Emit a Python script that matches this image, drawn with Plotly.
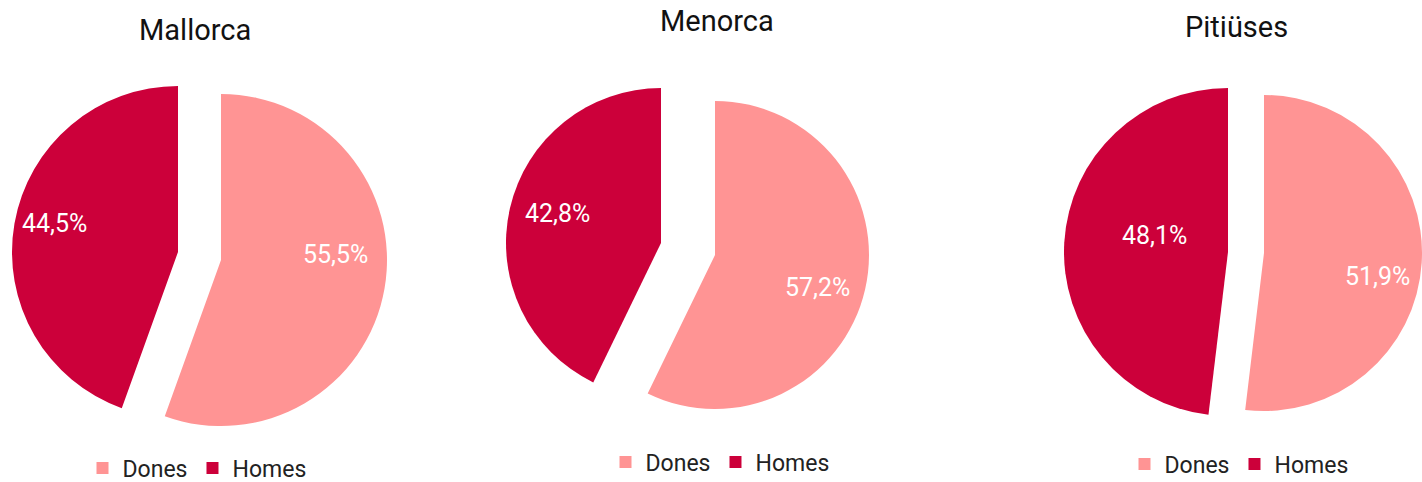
import math
import plotly.graph_objects as go

W, H = 1422, 482

islands = ["Mallorca", "Menorca", "Pitiüses"]
labels = ["Dones", "Homes"]
dones = [55.5, 57.2, 51.9]
homes = [44.5, 42.8, 48.1]

C_DONES = "#FF9494"
C_HOMES = "#CC003A"
CLEAR = "rgba(0,0,0,0)"
FONT = "Roboto"

# layout geometry in window pixels: homes-slice centre, dones-slice centre (exploded), radius,
# title / legend centres, and percentage-label placement (distance from slice centre along
# the bisector, vertical nudge) for [Dones, Homes]
geom = [
    dict(h=(178, 252, 166), d=(221, 260, 166), title=(195, 30), legend=(197, 468),
         lab=[(116, -25), (125, -7)]),
    dict(h=(661, 243, 155), d=(715, 255, 154), title=(717, 21), legend=(720, 462),
         lab=[(105, 9), (106, -6)]),
    dict(h=(1228, 252, 164), d=(1264, 253, 158), title=(1236, 27), legend=(1239, 464),
         lab=[(114, 17), (74, -12)]),
]


def clamp(v):
    return min(1.0, max(0.0, v))


def px(x, y):
    return x / W, 1 - y / H


def dom(cx, cy, r):
    x0, y1 = px(cx - r, cy - r)
    x1, y0 = px(cx + r, cy + r)
    return dict(x=[clamp(x0), clamp(x1)], y=[clamp(y0), clamp(y1)])


fig = go.Figure()
layout_legends = {}
for i, name in enumerate(islands):
    lg = "legend" if i == 0 else f"legend{i + 1}"
    vals = [dones[i], homes[i]]
    total = sum(vals)
    g = geom[i]
    common = dict(labels=labels, values=vals, sort=False, direction="clockwise",
                  rotation=0, textinfo="none", name=name, hoverinfo="label+percent",
                  showlegend=False)
    # Dones slice (exploded)
    fig.add_trace(go.Pie(domain=dom(*g["d"]),
                         marker=dict(colors=[C_DONES, CLEAR], line=dict(width=0)),
                         **common))
    # Homes slice
    fig.add_trace(go.Pie(domain=dom(*g["h"]),
                         marker=dict(colors=[CLEAR, C_HOMES], line=dict(width=0)),
                         **common))
    # legend carrier (same data, both colours, zero-size)
    fig.add_trace(go.Pie(
        labels=labels, values=vals, sort=False, direction="clockwise",
        domain=dict(x=[0, 0.00001], y=[0, 0.00001]),
        marker=dict(colors=[C_DONES, C_HOMES], line=dict(width=0)),
        textinfo="none", hoverinfo="skip", showlegend=True, legend=lg,
        legendgroup=f"g{i}", name=name,
    ))

    # percentage labels, placed along each slice's bisector
    start = 0.0
    for k, (v, key) in enumerate(zip(vals, ["d", "h"])):
        mid = (start + v / 2) / total * 2 * math.pi
        start += v
        cx, cy, _ = g[key]
        dist, nudge = g["lab"][k]
        lx = cx + dist * math.sin(mid)
        ly = cy - dist * math.cos(mid) + nudge
        ax, ay = px(lx, ly)
        pct = f"{v / total * 100:.1f}".replace(".", ",") + "%"
        fig.add_annotation(text=pct, x=ax, y=ay, xref="paper", yref="paper",
                           xanchor="center", yanchor="middle", showarrow=False,
                           font=dict(family=FONT, size=25, color="white"))

    lx, ly = g["legend"]
    x, y = px(lx, ly)
    layout_legends[lg] = dict(
        orientation="h", x=x, xanchor="center", y=y, yanchor="middle",
        font=dict(family=FONT, size=23, color="#222222"), bgcolor="rgba(0,0,0,0)",
        traceorder="normal", itemclick=False, itemdoubleclick=False,
    )
    tx, ty = g["title"]
    x, y = px(tx, ty)
    fig.add_annotation(
        text=name, x=x, y=y, xref="paper", yref="paper",
        xanchor="center", yanchor="middle", showarrow=False, borderpad=0,
        font=dict(family=FONT, size=29, color="#111111"),
    )

fig.update_layout(
    width=W, height=H, margin=dict(l=0, r=0, t=0, b=0, autoexpand=False),
    paper_bgcolor="white", plot_bgcolor="white",
    separators=",.",
    **layout_legends,
)

fig.write_html("out.html", config={"displayModeBar": False},
               post_script="document.body.style.margin='0px';document.body.style.overflow='hidden';")
